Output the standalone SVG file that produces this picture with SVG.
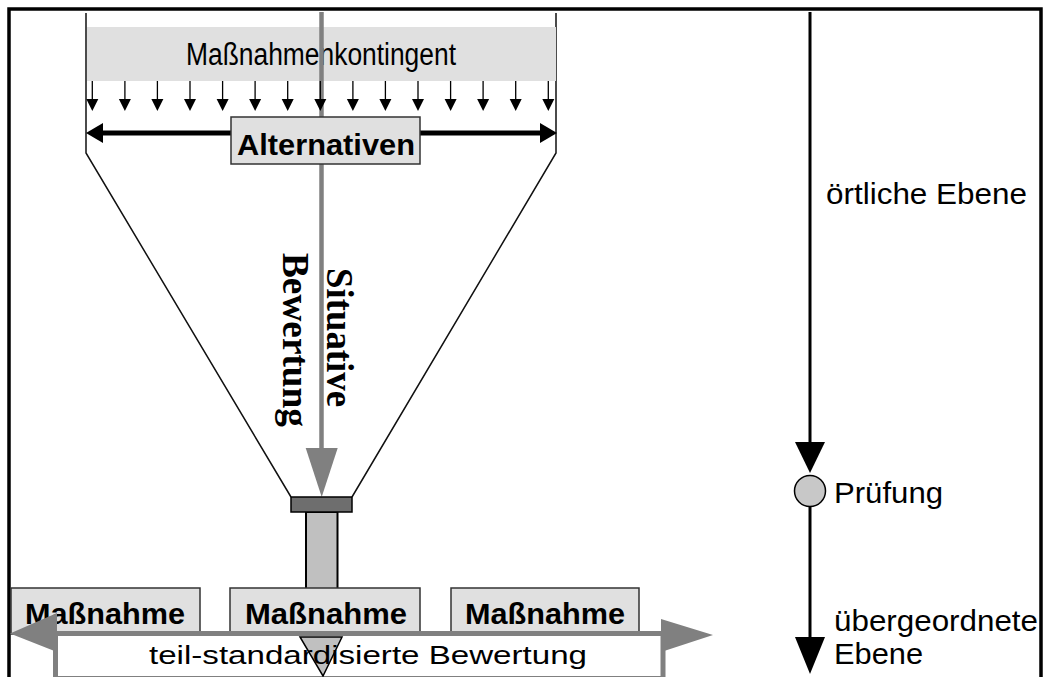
<svg xmlns="http://www.w3.org/2000/svg" width="1045" height="677" viewBox="0 0 1045 677">
  <style>
    .sans { font-family: "Liberation Sans", Arial, sans-serif; fill: #000; }
    .bold { font-weight: bold; }
    .serif { font-family: "Liberation Serif", "Times New Roman", serif; font-weight: bold; fill: #000; }
    .box { fill: #e0e0e0; stroke: #333; stroke-width: 1.5; }
    .thin { stroke: #111; stroke-width: 1.5; fill: none; }
    .tick { stroke: #000; stroke-width: 1.3; }
  </style>
  <defs>
    <!-- small downward arrow used along the contingent bar -->
    <g id="drop">
      <line x1="0" y1="81" x2="0" y2="100" class="tick"/>
      <polygon points="-6,99 6,99 0,111" fill="#000"/>
    </g>
  </defs>

  <rect x="0" y="0" width="1045" height="677" fill="#fff"/>

  <!-- outer frame (open at the bottom) -->
  <path d="M9,677 V9 H1041 V677" fill="none" stroke="#000" stroke-width="3.5"/>

  <!-- funnel outline -->
  <g id="funnel">
    <path class="thin" d="M86,13 V153 L291,497"/>
    <path class="thin" d="M556,13 V153 L352,497"/>
  </g>

  <!-- contingent bar -->
  <g id="contingent">
    <rect x="87" y="27" width="469" height="54" fill="#e0e0e0"/>
    <text class="sans" x="321" y="65" font-size="31" text-anchor="middle" textLength="270" lengthAdjust="spacingAndGlyphs">Maßnahmenkontingent</text>
  </g>

  <g id="connectors">
    <!-- situative evaluation axis -->
    <line x1="321.5" y1="12" x2="321.5" y2="452" stroke="#808080" stroke-width="4.5"/>
    <polygon points="305.7,448 337.7,448 321.7,497" fill="#808080"/>

    <!-- drops from the contingent -->
    <use href="#drop" x="92.3"/>
    <use href="#drop" x="124.9"/>
    <use href="#drop" x="157.4"/>
    <use href="#drop" x="190"/>
    <use href="#drop" x="222.6"/>
    <use href="#drop" x="255.1"/>
    <use href="#drop" x="287.7"/>
    <use href="#drop" x="320.3"/>
    <use href="#drop" x="352.9"/>
    <use href="#drop" x="385.4"/>
    <use href="#drop" x="418"/>
    <use href="#drop" x="450.6"/>
    <use href="#drop" x="483.1"/>
    <use href="#drop" x="515.7"/>
    <use href="#drop" x="548.3"/>

    <!-- alternatives span -->
    <line x1="100" y1="133" x2="543" y2="133" stroke="#000" stroke-width="5"/>
    <polygon points="86,133 103,123 103,143" fill="#000"/>
    <polygon points="557,133 540,123 540,143" fill="#000"/>

    <!-- level axis on the right -->
    <line x1="810" y1="12" x2="810" y2="445" stroke="#000" stroke-width="3"/>
    <polygon points="795,442 825,442 810,473" fill="#000"/>
    <line x1="810" y1="506" x2="810" y2="640" stroke="#000" stroke-width="3"/>
    <polygon points="795,637 825,637 810,674" fill="#000"/>
  </g>

  <!-- alternatives label -->
  <g id="alternativen">
    <rect class="box" x="231" y="117" width="189" height="47" stroke-width="2"/>
    <text class="sans bold" x="326" y="155" font-size="30" text-anchor="middle" textLength="178" lengthAdjust="spacingAndGlyphs">Alternativen</text>
  </g>

  <!-- rotated evaluation label -->
  <g id="situative-bewertung">
    <text class="serif" font-size="37" transform="translate(327,268) rotate(90)" textLength="139" lengthAdjust="spacingAndGlyphs">Situative</text>
    <text class="serif" font-size="37" transform="translate(283,253) rotate(90)" textLength="174" lengthAdjust="spacingAndGlyphs">Bewertung</text>
  </g>

  <!-- funnel outlet -->
  <g id="outlet">
    <rect x="306" y="512" width="31.5" height="80" fill="#c0c0c0" stroke="#000" stroke-width="2"/>
    <rect x="291" y="497" width="61" height="15" fill="#6e6e6e" stroke="#000" stroke-width="1.5"/>
  </g>

  <!-- measures -->
  <g id="massnahme-1">
    <rect class="box" x="11" y="588" width="189" height="46"/>
    <text class="sans bold" x="105" y="624" font-size="30" text-anchor="middle" textLength="160" lengthAdjust="spacingAndGlyphs">Maßnahme</text>
  </g>
  <g id="massnahme-2">
    <rect class="box" x="230" y="588" width="190" height="46"/>
    <text class="sans bold" x="326" y="624" font-size="30" text-anchor="middle" textLength="162" lengthAdjust="spacingAndGlyphs">Maßnahme</text>
  </g>
  <g id="massnahme-3">
    <rect class="box" x="451" y="588" width="188" height="46"/>
    <text class="sans bold" x="545" y="624" font-size="30" text-anchor="middle" textLength="160" lengthAdjust="spacingAndGlyphs">Maßnahme</text>
  </g>

  <!-- partly standardised evaluation band -->
  <g id="standard-bewertung">
    <rect x="55.5" y="633.5" width="607.5" height="45" fill="#fff" stroke="#808080" stroke-width="5"/>
    <polygon points="57,613 10,633.5 57,652" fill="#808080"/>
    <polygon points="661,619 713,635 661,652" fill="#808080"/>
    <polygon points="300,637 342,637 323,676" fill="#c0c0c0" stroke="#000" stroke-width="1.5"/>
    <text class="sans" x="149" y="664" font-size="25" textLength="438" lengthAdjust="spacingAndGlyphs">teil-standardisierte Bewertung</text>
  </g>

  <!-- levels -->
  <g id="oertliche-ebene">
    <text class="sans" x="826" y="204" font-size="30" textLength="201" lengthAdjust="spacingAndGlyphs">örtliche Ebene</text>
  </g>
  <g id="pruefung">
    <circle cx="810" cy="491" r="15.5" fill="#c8c8c8" stroke="#000" stroke-width="1.5"/>
    <text class="sans" x="834" y="503" font-size="30" textLength="109" lengthAdjust="spacingAndGlyphs">Prüfung</text>
  </g>
  <g id="uebergeordnete-ebene">
    <text class="sans" x="834" y="631" font-size="30" textLength="204" lengthAdjust="spacingAndGlyphs">übergeordnete</text>
    <text class="sans" x="834" y="664" font-size="30" textLength="89" lengthAdjust="spacingAndGlyphs">Ebene</text>
  </g>
</svg>
